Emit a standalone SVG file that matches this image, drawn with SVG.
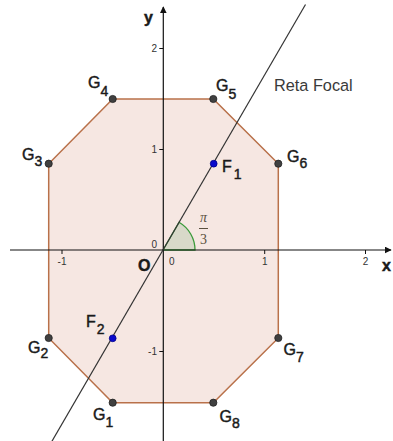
<svg xmlns="http://www.w3.org/2000/svg" width="393" height="441" viewBox="0 0 393 441">
<defs>
<style>
.lbl{font-family:"Liberation Sans",Arial,sans-serif;font-size:16px;fill:#1a1a1a;stroke:#1a1a1a;stroke-width:0.45}
.sub{font-size:14px}
.tick{font-family:"Liberation Sans",Arial,sans-serif;font-size:10px;fill:#333}
.ax{stroke:#111;stroke-width:1.2;fill:none}
.pt{fill:#404040;stroke:#222;stroke-width:0.8}
.fp{fill:#0a0acc;stroke:#00008a;stroke-width:0.8}
</style>
<marker id="arr" viewBox="0 0 10 10" refX="9" refY="5" markerWidth="7" markerHeight="7" markerUnits="userSpaceOnUse" orient="auto">
<path d="M0,0 L10,5 L0,10 Z" fill="#111"/>
</marker>
</defs>
<rect width="393" height="441" fill="#fff"/>
<g id="octagon">
<polygon points="112.7,99 213.3,99 278.3,163.7 278.3,338 213.3,402.7 112.7,402.7 48.7,338 48.7,163.7" fill="#f6e7e2" stroke="#b9714a" stroke-width="1.5"/>
</g>
<g id="angle">
<path d="M163,250 L195,250 A32,32 0 0 0 179,222.3 Z" fill="#d8d9c9" stroke="#3a9a3a" stroke-width="1.3"/>
</g>
<g id="axes">
<line class="ax" x1="10" y1="250" x2="391" y2="250" marker-end="url(#arr)"/>
<line class="ax" x1="163.3" y1="441" x2="163.3" y2="7" marker-end="url(#arr)"/>
<g stroke="#111" stroke-width="1">
<line x1="62" y1="250" x2="62" y2="254"/>
<line x1="264.7" y1="250" x2="264.7" y2="254"/>
<line x1="365.5" y1="250" x2="365.5" y2="254"/>
<line x1="159.3" y1="48.5" x2="163.3" y2="48.5"/>
<line x1="159.3" y1="149.5" x2="163.3" y2="149.5"/>
<line x1="159.3" y1="351.5" x2="163.3" y2="351.5"/>
</g>
<text class="tick" x="62" y="265" text-anchor="middle">-1</text>
<text class="tick" x="264.7" y="265" text-anchor="middle">1</text>
<text class="tick" x="365.5" y="265" text-anchor="middle">2</text>
<text class="tick" x="157" y="52" text-anchor="end">2</text>
<text class="tick" x="157" y="153" text-anchor="end">1</text>
<text class="tick" x="157" y="355" text-anchor="end">-1</text>
<text class="tick" x="157" y="248" text-anchor="end">0</text>
<text class="tick" x="169" y="265">0</text>
<text class="lbl" x="382" y="271" font-weight="bold" stroke-width="0">x</text>
<text class="lbl" x="144" y="23" font-weight="bold" stroke-width="0">y</text>
</g>
<g id="reta-focal">
<line x1="305.5" y1="4.5" x2="51.5" y2="442" stroke="#333" stroke-width="1.2"/>
<text x="274" y="90.5" font-family="Liberation Sans, Arial, sans-serif" font-size="16.3" fill="#3a3a3a">Reta Focal</text>
</g>
<g id="angle-label" font-family="Liberation Serif, Times New Roman, serif" fill="#5a5040">
<text x="203.5" y="222" font-size="14" text-anchor="middle" font-style="italic">π</text>
<line x1="199" y1="228.5" x2="208" y2="228.5" stroke="#5a5040" stroke-width="1"/>
<text x="203.5" y="244" font-size="14" text-anchor="middle">3</text>
</g>
<g id="O"><text class="lbl" x="138" y="271" font-size="17" font-weight="bold" stroke-width="0">O</text></g>
<g id="G1"><circle class="pt" cx="112.7" cy="402.7" r="3.6"/><text class="lbl" x="93" y="420">G<tspan class="sub" dy="7">1</tspan></text></g>
<g id="G2"><circle class="pt" cx="48.7" cy="338" r="3.6"/><text class="lbl" x="28" y="353">G<tspan class="sub" dy="5">2</tspan></text></g>
<g id="G3"><circle class="pt" cx="48.7" cy="163.7" r="3.6"/><text class="lbl" x="22" y="160">G<tspan class="sub" dy="6">3</tspan></text></g>
<g id="G4"><circle class="pt" cx="112.7" cy="99" r="3.6"/><text class="lbl" x="88" y="88">G<tspan class="sub" dy="8">4</tspan></text></g>
<g id="G5"><circle class="pt" cx="213.3" cy="99" r="3.6"/><text class="lbl" x="216" y="91">G<tspan class="sub" dy="8">5</tspan></text></g>
<g id="G6"><circle class="pt" cx="278.3" cy="163.7" r="3.6"/><text class="lbl" x="287" y="162">G<tspan class="sub" dy="6">6</tspan></text></g>
<g id="G7"><circle class="pt" cx="278.3" cy="338" r="3.6"/><text class="lbl" x="283.5" y="355">G<tspan class="sub" dy="7">7</tspan></text></g>
<g id="G8"><circle class="pt" cx="213.3" cy="402.7" r="3.6"/><text class="lbl" x="219.5" y="421.5">G<tspan class="sub" dy="6.5">8</tspan></text></g>
<g id="F1"><circle class="fp" cx="213.7" cy="163.7" r="3.4"/><text class="lbl" x="222" y="172">F<tspan class="sub" dy="7" dx="2">1</tspan></text></g>
<g id="F2"><circle class="fp" cx="112.7" cy="338.3" r="3.4"/><text class="lbl" x="86" y="327">F<tspan class="sub" dy="7" dx="1">2</tspan></text></g>
</svg>
